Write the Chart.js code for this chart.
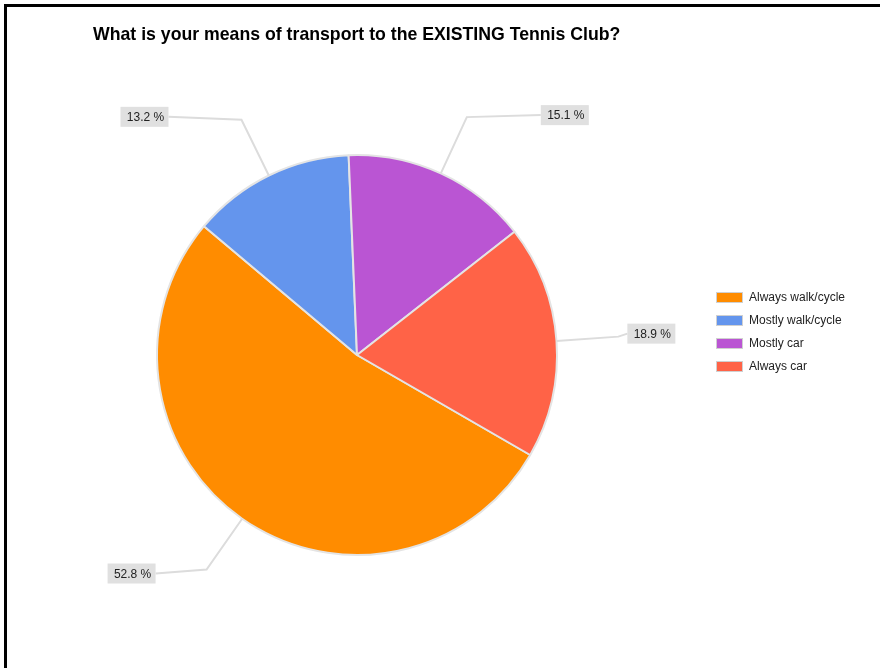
<!DOCTYPE html>
<html>
<head>
<meta charset="utf-8">
<script src="https://cdn.jsdelivr.net/npm/chart.js@4/dist/chart.umd.min.js"></script>
<style>
  html, body { margin: 0; padding: 0; background: #fff; }
  #wrap { width: 880px; height: 668px; position: relative; }
</style>
</head>
<body>
<div id="wrap"><canvas id="chartTransport" width="880" height="668"></canvas></div>
<script>
// Données
const categories = ['Always walk/cycle', 'Mostly walk/cycle', 'Mostly car', 'Always car'];
const pourcentages = [52.8, 13.2, 15.1, 18.9];
const couleurs = ['#FF8C00', '#6495ED', '#BA55D3', '#FF6347'];
const titre = 'What is your means of transport to the EXISTING Tennis Club?';

const FONT = 'Arial, "Liberation Sans", sans-serif';

// étiquettes avec trait de rappel + légende + titre + cadre
const decorPlugin = {
    id: 'decor',
    beforeDraw(chart) {
        const ctx = chart.ctx;
        ctx.save();
        ctx.fillStyle = '#000';
        ctx.fillRect(4, 4, chart.width - 4, 3);
        ctx.fillRect(4, 4, 3, chart.height - 4);
        ctx.restore();
    },
    afterDraw(chart) {
        const ctx = chart.ctx;
        const meta = chart.getDatasetMeta(0);
        // trait horizontal entre le coude et l'étiquette, et petit décalage vertical de la boîte
        const runs = [51, 73, 74, 9];
        const shifts = [4, -3, -2, -3];
        ctx.save();

        // titre
        ctx.font = 'bold 17.7px ' + FONT;
        ctx.fillStyle = '#000';
        ctx.textAlign = 'left';
        ctx.textBaseline = 'middle';
        ctx.fillText(titre, 93, 35);

        ctx.font = '12px ' + FONT;
        meta.data.forEach((arc, i) => {
            const a = (arc.startAngle + arc.endAngle) / 2;
            const r = arc.outerRadius;
            const x0 = arc.x + Math.cos(a) * r;
            const y0 = arc.y + Math.sin(a) * r;
            const x1 = arc.x + Math.cos(a) * (r * 1.31);
            const y1 = arc.y + Math.sin(a) * (r * 1.31);
            const right = Math.cos(a) >= 0;
            const x2 = right ? x1 + runs[i] : x1 - runs[i];
            const yb = y1 + shifts[i];

            ctx.strokeStyle = '#dcdcdc';
            ctx.lineWidth = 2;
            ctx.beginPath();
            ctx.moveTo(x0, y0);
            ctx.lineTo(x1, y1);
            ctx.lineTo(x2, yb);
            ctx.stroke();

            const bw = 48, bh = 20;
            const bx = right ? x2 : x2 - bw;
            ctx.fillStyle = '#e0e0e0';
            ctx.fillRect(bx, yb - bh / 2, bw, bh);
            ctx.fillStyle = '#222';
            ctx.textAlign = 'center';
            ctx.fillText(pourcentages[i].toFixed(1) + ' %', bx + bw / 2 + 1, yb + 1);
        });

        // légende
        categories.forEach((c, i) => {
            const y = 297 + i * 23;
            ctx.fillStyle = '#d0d0d0';
            ctx.fillRect(716, y - 5, 27, 11);
            ctx.fillStyle = couleurs[i];
            ctx.fillRect(717, y - 4, 25, 9);
            ctx.fillStyle = '#222';
            ctx.textAlign = 'left';
            ctx.fillText(c, 749, y + 1);
        });
        ctx.restore();
    }
};

const ctxTransport = document.getElementById('chartTransport');
new Chart(ctxTransport, {
    type: 'pie',
    data: {
        labels: categories,
        datasets: [{
            data: pourcentages,
            backgroundColor: couleurs,
            borderColor: '#e4e4e4',
            borderWidth: 2
        }]
    },
    options: {
        responsive: false,
        animation: false,
        rotation: 120,
        layout: { padding: { left: 156, right: 322, top: 154, bottom: 112 } },
        plugins: {
            legend: { display: false },
            title: { display: false },
            tooltip: { enabled: false }
        }
    },
    plugins: [decorPlugin]
});
</script>
</body>
</html>
